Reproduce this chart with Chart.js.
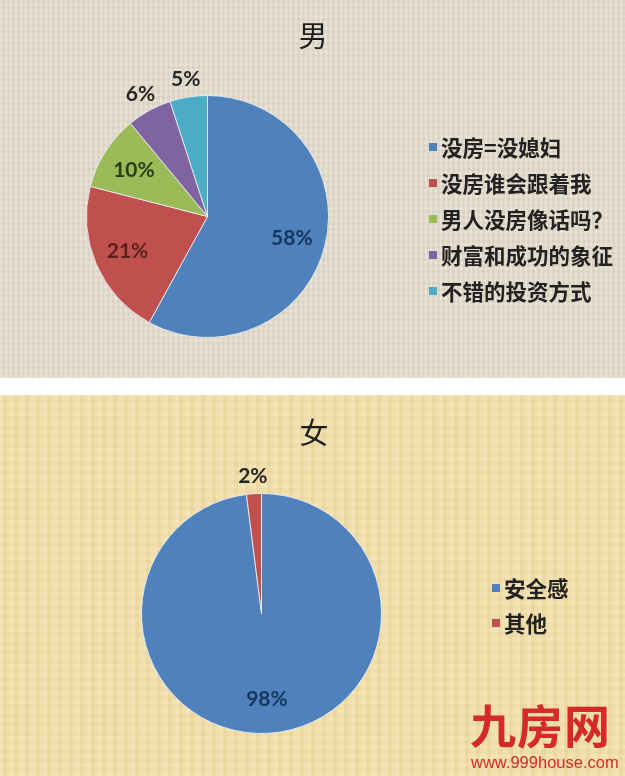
<!DOCTYPE html>
<html>
<head>
<meta charset="utf-8">
<script src="https://cdn.jsdelivr.net/npm/chart.js@4/dist/chart.umd.min.js"></script>
<style>
  html, body { margin: 0; padding: 0; background: #ffffff; }
  body { width: 625px; height: 776px; position: relative; overflow: hidden; font-family: "Noto Sans CJK SC", sans-serif; }
  .panel { position: absolute; left: 0; width: 625px; }
  #top { top: 0; height: 378px; background: #e6dece;
    background-image: repeating-linear-gradient(90deg, rgba(255,255,255,0.10) 0 2px, rgba(0,0,0,0.03) 2px 5px),
                      repeating-linear-gradient(0deg, rgba(255,255,255,0.08) 0 3px, rgba(0,0,0,0.025) 3px 6px); }
  #bottom { top: 395px; height: 381px; background: #f1dea8;
    background-image: repeating-linear-gradient(90deg, rgba(255,255,255,0.12) 0 3px, rgba(160,120,40,0.05) 3px 7px, rgba(255,255,255,0.06) 7px 11px),
                      repeating-linear-gradient(0deg, rgba(255,255,255,0.06) 0 4px, rgba(160,120,40,0.03) 4px 9px); }
  canvas { position: absolute; left: 0; top: 0; }
  .title { position: absolute; font-size: 29px; color: #1e1e1e; transform: translate(-50%, -50%); line-height: 1; }
  .legend { position: absolute; }
  .legend .row { display: flex; align-items: center; position: absolute; white-space: nowrap; font-weight: 700; font-size: 21.5px; color: #222; line-height: 1; }
  .legend .sw { width: 8px; height: 8px; margin-right: 4px; }
  .wm1 { position: absolute; left: 470px; top: 700px; font-size: 46px; font-weight: 700; color: #d42a2a; letter-spacing: 1px; line-height: 1; }
  .wm2 { position: absolute; left: 471px; top: 754px; font-family: "Liberation Sans", Arial, sans-serif; font-size: 16.5px; color: #d42a2a; line-height: 1; }
</style>
</head>
<body>
<div id="top" class="panel">
  <canvas id="c1" width="625" height="378"></canvas>
  <div class="title" style="left:313px; top:34px;">男</div>
  <div id="leg1" class="legend"></div>
</div>
<div id="bottom" class="panel">
  <canvas id="c2" width="625" height="381"></canvas>
  <div class="title" style="left:314px; top:36px;">女</div>
  <div id="leg2" class="legend"></div>
</div>
<div class="wm1">九房网</div>
<div class="wm2">www.999house.com</div>

<script>
// ---- data ----
const maleCategories = ['没房=没媳妇', '没房谁会跟着我', '男人没房像话吗？', '财富和成功的象征', '不错的投资方式'];
const maleValues = [58, 21, 10, 6, 5];
const femaleCategories = ['安全感', '其他'];
const femaleValues = [98, 2];

// ---- styles ----
const malePalette = ['#4f81bd', '#c0504d', '#9bbb59', '#8064a2', '#4bacc6'];
const maleLabelColors = ['#17365d', '#5a1f1d', '#2b3f14', '#262626', '#262626'];
const femalePalette = ['#4f81bd', '#c0504d'];
const femaleLabelColors = ['#17365d', '#262626'];

const pctLabels = {
  id: 'pctLabels',
  afterDatasetsDraw(chart, args, opts) {
    const ctx = chart.ctx;
    const meta = chart.getDatasetMeta(0);
    const vals = chart.data.datasets[0].data;
    const sum = vals.reduce((a, b) => a + b, 0);
    ctx.save();
    ctx.font = 'bold 21px Lato, "Liberation Sans", sans-serif';
    ctx.textAlign = 'center';
    ctx.textBaseline = 'middle';
    meta.data.forEach((arc, i) => {
      const p = arc.getProps(['x', 'y', 'startAngle', 'endAngle', 'outerRadius'], true);
      const mid = (p.startAngle + p.endAngle) / 2;
      const share = vals[i] / sum;
      const f = share < 0.08 ? opts.outside : opts.inside;
      const x = p.x + Math.cos(mid) * p.outerRadius * f;
      const y = p.y + Math.sin(mid) * p.outerRadius * f;
      ctx.fillStyle = opts.colors[i];
      ctx.fillText(Math.round(share * 100) + '%', x, y);
    });
    ctx.restore();
  }
};

function makePie(id, labels, values, palette, labelColors, padding) {
  return new Chart(document.getElementById(id), {
    type: 'pie',
    data: {
      labels: labels,
      datasets: [{
        data: values,
        backgroundColor: palette,
        borderColor: 'rgba(235,240,246,0.85)',
        borderWidth: 1
      }]
    },
    options: {
      responsive: false,
      animation: false,
      layout: { padding: padding },
      plugins: {
        legend: { display: false },
        tooltip: { enabled: false },
        pctLabels: { colors: labelColors, inside: 0.72, outside: 1.15 }
      }
    },
    plugins: [pctLabels]
  });
}

makePie('c1', maleCategories, maleValues, malePalette, maleLabelColors,
  { left: 86, top: 95, right: 296, bottom: 40 });
makePie('c2', femaleCategories, femaleValues, femalePalette, femaleLabelColors,
  { left: 141, top: 98, right: 243, bottom: 42 });

function buildLegend(elId, labels, palette, x, y0, step) {
  const el = document.getElementById(elId);
  labels.forEach((lab, i) => {
    const row = document.createElement('div');
    row.className = 'row';
    row.style.left = x + 'px';
    row.style.top = (y0 + i * step - 11) + 'px';
    const sw = document.createElement('span');
    sw.className = 'sw';
    sw.style.background = palette[i];
    const tx = document.createElement('span');
    tx.textContent = lab;
    row.appendChild(sw);
    row.appendChild(tx);
    el.appendChild(row);
  });
}
buildLegend('leg1', maleCategories, malePalette, 429, 147, 36);
buildLegend('leg2', femaleCategories, femalePalette, 492, 193, 35);
</script>
</body>
</html>
